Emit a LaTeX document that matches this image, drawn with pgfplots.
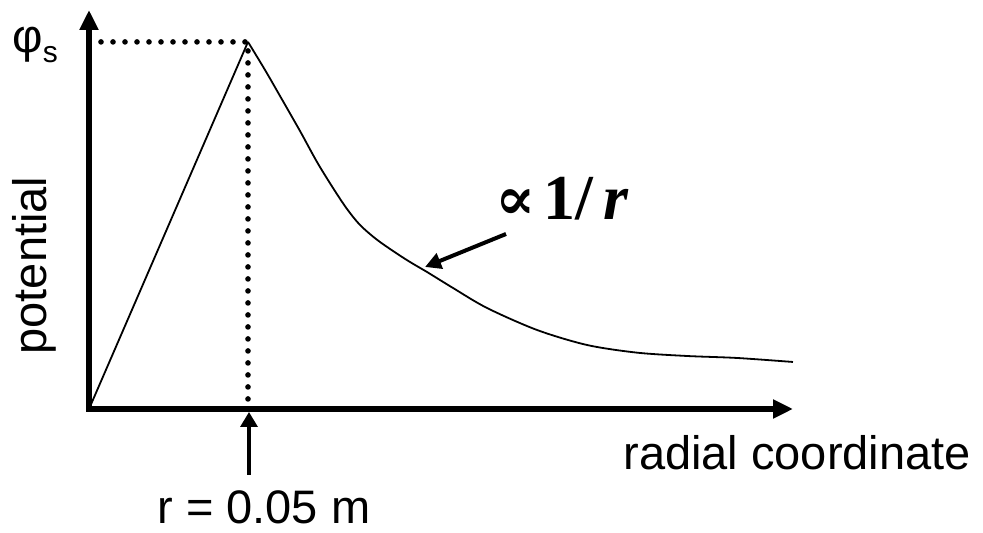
\documentclass[border=0pt]{standalone}
\usepackage{fontspec}
\setmainfont{Liberation Sans}
\newfontfamily\timesfont{Liberation Serif}
\newfontfamily\djserif{DejaVu Serif}
\usepackage{pgfplots}
\pgfplotsset{compat=1.18}
\usetikzlibrary{arrows.meta}

\begin{document}
\begin{tikzpicture}
\begin{axis}[
  scale only axis,
  width=352pt, height=199.5pt,
  xmin=0, xmax=0.2214,
  ymin=0, ymax=1.087,
  axis lines=left,
  axis line style={line width=3pt, line cap=rect, -{Triangle[length=10pt,width=9pt]}},
  xtick=\empty, ytick=\empty,
  clip=false,
]
% dotted guides to the peak
\addplot[black, line width=2.8pt, line cap=round, dash pattern=on 0pt off 6pt]
  coordinates {(0,1.0)(0.05,1.0)(0.05,0)};
% potential: linear inside, ~1/r outside
\addplot[black, line width=0.9pt, smooth] coordinates {
  (0.0500,1.0)(0.05535,0.9237)(0.06006,0.8529)(0.06635,0.7575)(0.07170,0.6730)
  (0.07673,0.6022)(0.08113,0.5450)(0.08522,0.5014)(0.09025,0.4632)(0.09560,0.4305)
  (0.10094,0.4005)(0.10629,0.3733)(0.11447,0.3297)(0.12516,0.2752)(0.14088,0.2153)
  (0.15661,0.1744)(0.17233,0.1535)(0.18805,0.1444)(0.20378,0.1390)(0.22139,0.1281)
};
\addplot[black, line width=0.9pt] coordinates {(0,0)(0.05,1.0)};
\end{axis}

\node[anchor=base west, inner sep=0, font=\fontsize{23.5}{28}\selectfont] at (-38.5pt,178pt)
  {φ\raisebox{-5pt}{\fontsize{15}{15}\selectfont s}};
\node[anchor=base, rotate=90, inner sep=0, font=\fontsize{23.5}{28}\selectfont] at (-21pt,71.75pt) {potential};
\node[anchor=base west, inner sep=0, font=\fontsize{23.5}{28}\selectfont] at (267pt,-30.5pt) {radial coordinate};
\node[anchor=base west, inner sep=0, font=\fontsize{23.5}{28}\selectfont] at (34pt,-57.5pt) {r = 0.05 m};
\node[anchor=base west, inner sep=0, font=\fontsize{32}{36}\selectfont\timesfont\bfseries] at (203pt,94.5pt)
  {{\djserif\fontsize{30}{36}\selectfont ∝}\kern4pt 1/\kern5pt\textit{r}};

\draw[line width=2pt, -{Triangle[length=8pt,width=8pt]}] (208.5pt,87.5pt) -- (168pt,71pt);
\draw[line width=1.7pt, -{Triangle[length=7.5pt,width=8.5pt]}] (80pt,-33pt) -- (80pt,-1.5pt);

\path[use as bounding box] (-44.5pt,-62pt) rectangle (447pt,204.5pt);
\end{tikzpicture}
\end{document}
